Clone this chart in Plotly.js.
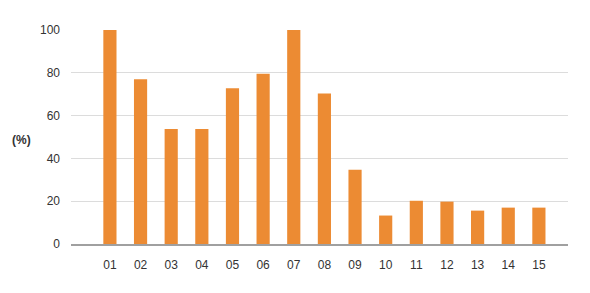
<!DOCTYPE html>
<html>
<head>
<meta charset="utf-8">
<script src="https://cdn.plot.ly/plotly-3.0.1.min.js"></script>
<style>html,body{margin:0;padding:0;background:#fff;}#chart{width:590px;height:293px;}</style>
</head>
<body>
<div id="chart"></div>
<script>
const categories = ["01","02","03","04","05","06","07","08","09","10","11","12","13","14","15"];
const values = [100, 77, 53.7, 53.7, 72.8, 79.5, 100, 70.3, 34.7, 13.3, 20.2, 19.8, 15.6, 17, 17];
const yTicks = [0, 20, 40, 60, 80, 100];
const yLabel = "(%)";

const trace = {
  type: "bar",
  x: categories,
  y: values,
  width: 0.43,
  marker: {color: "#ec8b33", line: {width: 0}},
  hoverinfo: "none"
};

const layout = {
  width: 590, height: 293,
  margin: {l: 71, r: 22, t: 29.5, b: 48.5},
  paper_bgcolor: "#fff", plot_bgcolor: "#fff",
  showlegend: false,
  font: {family: "Liberation Sans, Arial, sans-serif", size: 12, color: "#333"},
  bargap: 0.5,
  xaxis: {
    type: "category",
    range: [-1.27, 14.95],
    showgrid: false,
    showline: true, linecolor: "#a0a0a0", linewidth: 2,
    ticks: "", ticklabelstandoff: 9,
    tickfont: {size: 12, color: "#333"},
    fixedrange: true
  },
  yaxis: {
    range: [0, 100],
    tickvals: yTicks,
    ticktext: yTicks.map(String),
    showgrid: true, gridcolor: "#dcdcdc", gridwidth: 1,
    zeroline: false, showline: false,
    ticks: "", ticklabelstandoff: 10,
    tickfont: {size: 12, color: "#333"},
    fixedrange: true
  },
  annotations: [{
    text: "<b>" + yLabel + "</b>", xref: "paper", yref: "paper",
    x: -0.1, y: 0.485, xanchor: "center", yanchor: "middle",
    showarrow: false, font: {size: 12, color: "#333"}
  }]
};

Plotly.newPlot("chart", [trace], layout, {displayModeBar: false, staticPlot: true});
</script>
</body>
</html>
